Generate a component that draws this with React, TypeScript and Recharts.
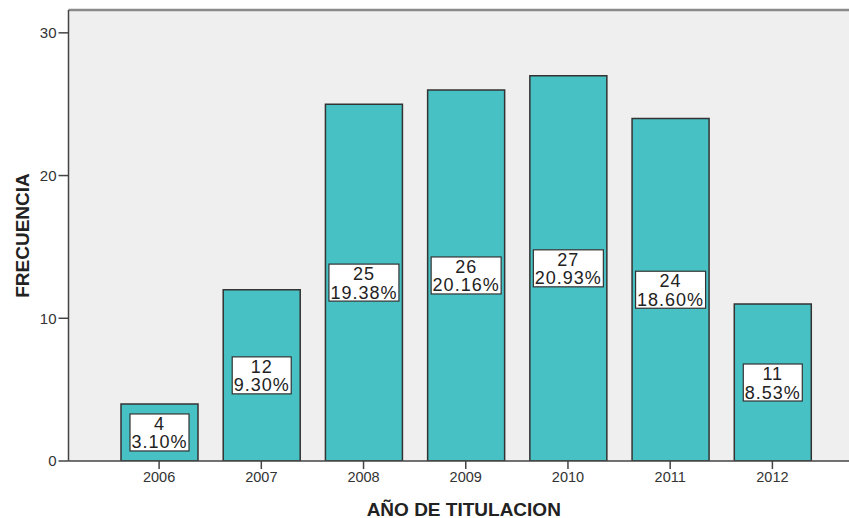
import React from "react";
import {
  BarChart,
  Bar,
  XAxis,
  YAxis,
  CartesianGrid,
  ReferenceLine,
  LabelList,
  Label,
} from "recharts";

const years = ["2006", "2007", "2008", "2009", "2010", "2011", "2012"];
const counts = [4, 12, 25, 26, 27, 24, 11];
const percents = ["3.10%", "9.30%", "19.38%", "20.16%", "20.93%", "18.60%", "8.53%"];
const yTicks = [0, 10, 20, 30];

const data = years.map((y, i) => ({ year: y, count: counts[i], pct: percents[i] }));

const FONT = "'Liberation Sans', Arial, sans-serif";
const LABEL_FS = 18;
const LS = 1;

const charW = (c: string) => {
  if (c === ".") return 5;
  if (c === "%") return 16;
  return 10;
};
const textW = (s: string) =>
  s.split("").reduce((a, c) => a + charW(c) * (LABEL_FS / 18) + LS, 0) - LS;

const BoxLabel = (props: any) => {
  const { x, y, width, height, index } = props;
  const c = String(counts[index]);
  const p = percents[index];
  const w = Math.max(textW(c), textW(p)) + 4;
  const h = 37;
  const cx = x + width / 2;
  const cy = y + height / 2;
  return (
    <g>
      <rect
        x={cx - w / 2}
        y={cy - h / 2}
        width={w}
        height={h}
        fill="#ffffff"
        stroke="#333"
        strokeWidth={1.2}
      />
      <text
        x={cx}
        y={cy - 8.5}
        textAnchor="middle"
        dominantBaseline="central"
        fontFamily={FONT}
        fontSize={LABEL_FS}
        letterSpacing={LS}
        fill="#222"
      >
        {c}
      </text>
      <text
        x={cx}
        y={cy + 10}
        textAnchor="middle"
        dominantBaseline="central"
        fontFamily={FONT}
        fontSize={LABEL_FS}
        letterSpacing={LS}
        fill="#222"
      >
        {p}
      </text>
    </g>
  );
};

const YLabel = (props: any) => {
  const vb = props.viewBox || {};
  const x = 22;
  const y = (vb.y ?? 10) + (vb.height ?? 451) / 2;
  return (
    <text
      x={x}
      y={y}
      transform={`rotate(-90, ${x}, ${y})`}
      textAnchor="middle"
      dominantBaseline="central"
      fontFamily={FONT}
      fontWeight="bold"
      fontSize={19}
      fill="#222"
    >
      FRECUENCIA
    </text>
  );
};

const XLabel = (props: any) => {
  const vb = props.viewBox || {};
  const x = (vb.x ?? 68.5) + (vb.width ?? 780.5) / 2 + 5;
  const y = 509.5;
  return (
    <text
      x={x}
      y={y}
      textAnchor="middle"
      dominantBaseline="central"
      fontFamily={FONT}
      fontWeight="bold"
      fontSize={19}
      fill="#222"
    >
      AÑO DE TITULACION
    </text>
  );
};

export default function App() {
  return (
    <div style={{ width: 849, height: 518 }}>
      <style>{"html,body{overflow:hidden;margin:0;padding:0}"}</style>
      <BarChart
        width={849}
        height={518}
        data={data}
        margin={{ top: 10, right: 0, bottom: 0, left: 8 }}
        barSize={77}
      >
        <CartesianGrid fill="#EFEFEF" horizontal={false} vertical={false} />
        <ReferenceLine y={31.6} stroke="#8a8a8a" strokeWidth={2.5} />
        <XAxis
          dataKey="year"
          height={57}
          padding={{ left: 39.5, right: 25.5 }}
          tickSize={8}
          tickMargin={3}
          axisLine={{ stroke: "#444", strokeWidth: 1.5 }}
          tickLine={{ stroke: "#444", strokeWidth: 1.5 }}
          tick={{ fontFamily: FONT, fontSize: 14.5, fill: "#333" }}
        >
          <Label content={<XLabel />} position="insideBottom" />
        </XAxis>
        <YAxis
          width={60.5}
          domain={[0, 31.6]}
          ticks={yTicks}
          allowDataOverflow
          tickSize={10}
          tickMargin={2}
          axisLine={{ stroke: "#444", strokeWidth: 1.5 }}
          tickLine={{ stroke: "#444", strokeWidth: 1.5 }}
          tick={{ fontFamily: FONT, fontSize: 15, fill: "#333" }}
        >
          <Label content={<YLabel />} position="insideLeft" />
        </YAxis>
        <Bar
          dataKey="count"
          fill="#48C1C4"
          stroke="#333"
          strokeWidth={1.5}
          isAnimationActive={false}
        >
          <LabelList dataKey="count" content={<BoxLabel />} />
        </Bar>
      </BarChart>
    </div>
  );
}
